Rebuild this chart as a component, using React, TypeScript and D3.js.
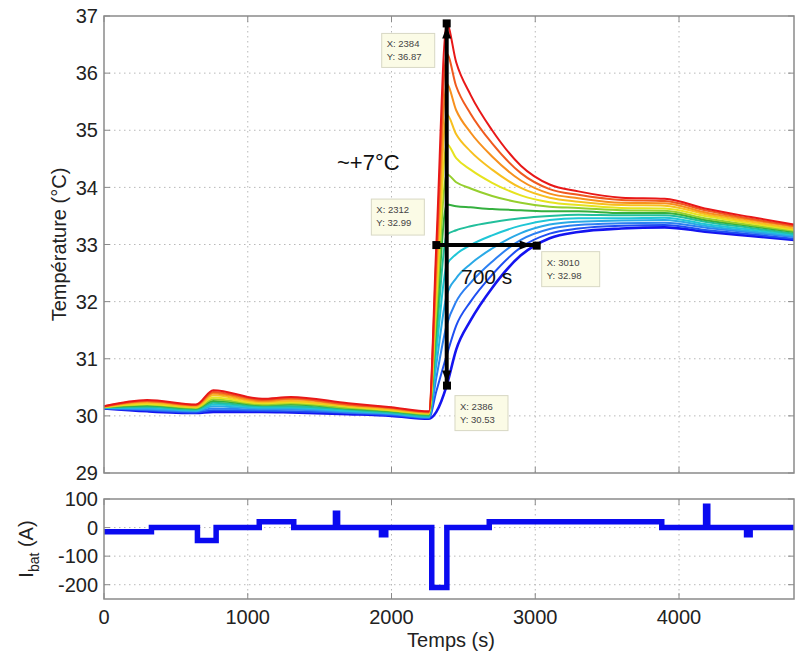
import React from 'react';
import * as d3 from 'd3';

// ---------- data ----------
const TIMES = [0, 300, 640, 760, 1100, 1300, 1700, 2000, 2260, 2312, 2384, 2450, 2550, 2700, 2900, 3100, 3300, 3600, 3900, 4200, 4500, 4800];

// 13 temperature curves, from the coldest (blue) to the hottest (red)
const TEMP_K0 = [30.13, 30.08, 30.05, 30.07, 30.07, 30.06, 30.03, 30.00, 29.95, 30.07, 30.53, 31.16, 31.67, 32.24, 32.81, 33.11, 33.22, 33.28, 33.30, 33.22, 33.15, 33.08];
const TEMP_K1 = [30.13, 30.10, 30.06, 30.10, 30.09, 30.08, 30.05, 30.01, 29.96, 30.43, 31.06, 31.58, 32.00, 32.47, 32.95, 33.19, 33.28, 33.33, 33.34, 33.25, 33.18, 33.10];
const TEMP_K2 = [30.14, 30.11, 30.08, 30.13, 30.11, 30.11, 30.06, 30.03, 29.97, 30.67, 31.59, 32.00, 32.33, 32.70, 33.08, 33.27, 33.34, 33.37, 33.38, 33.29, 33.21, 33.13];
const TEMP_K3 = [30.14, 30.13, 30.09, 30.17, 30.13, 30.13, 30.08, 30.04, 29.98, 30.90, 32.11, 32.41, 32.66, 32.93, 33.20, 33.35, 33.40, 33.42, 33.43, 33.32, 33.23, 33.15];
const TEMP_K4 = [30.14, 30.15, 30.10, 30.20, 30.15, 30.15, 30.09, 30.05, 29.99, 31.13, 32.64, 32.83, 32.99, 33.16, 33.33, 33.43, 33.46, 33.46, 33.47, 33.35, 33.26, 33.17];
const TEMP_K5 = [30.15, 30.16, 30.11, 30.23, 30.17, 30.17, 30.11, 30.06, 30.00, 31.36, 33.17, 33.25, 33.32, 33.39, 33.46, 33.50, 33.52, 33.51, 33.51, 33.39, 33.29, 33.19];
const TEMP_K6 = [30.15, 30.18, 30.13, 30.26, 30.19, 30.20, 30.13, 30.08, 30.02, 31.60, 33.70, 33.67, 33.65, 33.62, 33.60, 33.58, 33.58, 33.55, 33.55, 33.42, 33.32, 33.22];
const TEMP_K7 = [30.15, 30.20, 30.14, 30.29, 30.20, 30.22, 30.14, 30.09, 30.03, 31.84, 34.23, 34.09, 33.98, 33.85, 33.73, 33.66, 33.64, 33.60, 33.59, 33.45, 33.34, 33.24];
const TEMP_K8 = [30.16, 30.21, 30.15, 30.32, 30.22, 30.24, 30.16, 30.10, 30.04, 32.07, 34.76, 34.51, 34.31, 34.08, 33.86, 33.74, 33.69, 33.64, 33.63, 33.49, 33.37, 33.26];
const TEMP_K9 = [30.16, 30.23, 30.16, 30.36, 30.24, 30.26, 30.17, 30.11, 30.05, 32.30, 35.28, 34.93, 34.63, 34.31, 33.99, 33.82, 33.75, 33.69, 33.68, 33.52, 33.40, 33.28];
const TEMP_K10 = [30.16, 30.25, 30.18, 30.39, 30.26, 30.29, 30.19, 30.13, 30.06, 32.53, 35.81, 35.35, 34.96, 34.54, 34.12, 33.89, 33.81, 33.73, 33.72, 33.55, 33.43, 33.31];
const TEMP_K11 = [30.17, 30.26, 30.19, 30.42, 30.28, 30.31, 30.20, 30.14, 30.07, 32.77, 36.34, 35.77, 35.29, 34.77, 34.25, 33.97, 33.87, 33.78, 33.76, 33.59, 33.45, 33.33];
const TEMP_K12 = [30.17, 30.28, 30.20, 30.45, 30.30, 30.33, 30.22, 30.15, 30.08, 33.00, 36.87, 36.19, 35.62, 35.00, 34.38, 34.05, 33.93, 33.82, 33.80, 33.62, 33.48, 33.35];

const TEMP_SERIES = [TEMP_K0, TEMP_K1, TEMP_K2, TEMP_K3, TEMP_K4, TEMP_K5, TEMP_K6, TEMP_K7, TEMP_K8, TEMP_K9, TEMP_K10, TEMP_K11, TEMP_K12];

// battery current (step signal)
const I_TIMES = [0, 330, 650, 780, 1080, 1320, 1610, 1625, 1930, 1960, 2280, 2385, 2680, 3880, 4185, 4200, 4470, 4495, 4800];
const I_VALUES = [-15, 0, -45, 0, 20, 0, 50, 0, -25, 0, -210, 0, 20, 0, 75, 0, -25, 0, 0];

const TEMP_TICKS = [29, 30, 31, 32, 33, 34, 35, 36, 37];
const CURRENT_TICKS = [-200, -100, 0, 100];
const TIME_TICKS = [0, 1000, 2000, 3000, 4000];

// data tips
const TIP_X = [2384, 2312, 3010, 2386];
const TIP_Y = [36.87, 32.99, 32.98, 30.53];

// ---------- styles ----------
const CURVE_COLORS = ['#1414f0', '#1f4ff2', '#2c80f2', '#2aa9e6', '#1fc6d6', '#22bf9c', '#35b03f', '#96cf2e', '#e6e31f', '#f7c01f', '#f7901e', '#f05a1f', '#e81818'];
const FONT = "'Liberation Sans', Arial, Helvetica, sans-serif";
// box offsets (px) relative to tip point: dx, dy, w, h
const TIP_BOX = [
  [-65, 10, 53, 34],
  [-65, -46, 53, 36],
  [5, 6, 58, 35],
  [8, 10, 53, 35],
];

export default function App() {
  const W = 801, H = 656;
  const L = 104, R = 794, T1 = 16, B1 = 473, T2 = 499, B2 = 599;

  const x = d3.scaleLinear().domain([0, 4800]).range([L, R]);
  const y1 = d3.scaleLinear().domain([29, 37]).range([B1, T1]);
  const y2 = d3.scaleLinear().domain([-250, 100]).range([B2, T2]);

  const tLine = d3.line<number>()
    .x((_, i) => x(TIMES[i]))
    .y((d) => y1(d))
    .curve(d3.curveMonotoneX);

  const iLine = d3.line<number>()
    .x((_, i) => x(I_TIMES[i]))
    .y((d) => y2(d))
    .curve(d3.curveStepAfter);

  const gridColor = '#b8b8b8';
  const axisColor = '#8a8a8a';
  const tickLen = 6;

  const vx = x(TIP_X[0]);
  const vTop = y1(TIP_Y[0]);
  const vBot = y1(TIP_Y[3]);
  const hy = y1(TIP_Y[1]);
  const hL = x(TIP_X[1]);
  const hR = x(TIP_X[2]);

  const frame = (top: number, bottom: number, yTicks: number[], ys: (v: number) => number, gridY: number[]) => (
    <g>
      {TIME_TICKS.filter((t) => t > 0).map((t) => (
        <line key={'gx' + t} x1={x(t)} x2={x(t)} y1={top} y2={bottom} stroke={gridColor} strokeWidth={1} strokeDasharray="1.5,3.5" />
      ))}
      {gridY.map((v) => (
        <line key={'gy' + v} x1={L} x2={R} y1={ys(v)} y2={ys(v)} stroke={gridColor} strokeWidth={1} strokeDasharray="1.5,3.5" />
      ))}
      {TIME_TICKS.map((t) => (
        <g key={'tx' + t}>
          <line x1={x(t)} x2={x(t)} y1={bottom} y2={bottom - tickLen} stroke={axisColor} />
          <line x1={x(t)} x2={x(t)} y1={top} y2={top + tickLen} stroke={axisColor} />
        </g>
      ))}
      {yTicks.map((v) => (
        <g key={'ty' + v}>
          <line x1={L} x2={L + tickLen} y1={ys(v)} y2={ys(v)} stroke={axisColor} />
          <line x1={R} x2={R - tickLen} y1={ys(v)} y2={ys(v)} stroke={axisColor} />
          <text x={L - 6} y={ys(v)} dy="0.36em" textAnchor="end" fontSize={20} fill="#222" fontFamily={FONT}>{v}</text>
        </g>
      ))}
    </g>
  );

  const boxOutline = (top: number, bottom: number) => (
    <rect x={L} y={top} width={R - L} height={bottom - top} fill="none" stroke={axisColor} strokeWidth={1.5} />
  );

  return (
    <svg width={W} height={H} style={{ position: 'absolute', left: 0, top: 0, background: '#fff' }}>
      <rect x={0} y={0} width={W} height={H} fill="#fff" />
      {/* top plot */}
      {frame(T1, B1, TEMP_TICKS, y1, [30, 31, 32, 33, 34, 35, 36])}
      <g fill="none" strokeLinejoin="round">
        {TEMP_SERIES.map((s, k) => (
          <path key={k} d={tLine(s) || ''} stroke={CURVE_COLORS[k]} strokeWidth={k === 0 ? 2.6 : 2} />
        ))}
      </g>
      {/* annotations */}
      <g>
        <line x1={vx} x2={vx} y1={vTop} y2={vBot} stroke="#000" strokeWidth={4} />
        <line x1={hL} x2={hR} y1={hy} y2={hy} stroke="#000" strokeWidth={4} />
        <polygon points={`${vx},${vTop + 3} ${vx - 4.5},${vTop + 15} ${vx + 4.5},${vTop + 15}`} fill="#000" />
        <polygon points={`${vx},${vBot - 3} ${vx - 4.5},${vBot - 15} ${vx + 4.5},${vBot - 15}`} fill="#000" />
        <polygon points={`${hR - 5},${hy} ${hR - 17},${hy - 4.5} ${hR - 17},${hy + 4.5}`} fill="#000" />
        {TIP_X.map((t, i) => (
          <rect key={'m' + i} x={x(t) - 4} y={y1(TIP_Y[i]) - 4} width={8} height={8} fill="#000" />
        ))}
        {TIP_X.map((t, i) => {
          const px = x(t), py = y1(TIP_Y[i]);
          const [dx, dy, bw, bh] = TIP_BOX[i];
          return (
            <g key={'tip' + i}>
              <rect x={px + dx} y={py + dy} width={bw} height={bh} fill="#fbfbe6" stroke="#d8d8c4" strokeWidth={1} />
              <text x={px + dx + 5} y={py + dy + 14} fontSize={9.5} fill="#444" fontFamily={FONT}>{`X: ${t}`}</text>
              <text x={px + dx + 5} y={py + dy + 27} fontSize={9.5} fill="#444" fontFamily={FONT}>{`Y: ${TIP_Y[i].toFixed(2)}`}</text>
            </g>
          );
        })}
        <text x={337} y={170} fontSize={22} fill="#111" fontFamily={FONT}>~+7°C</text>
        <text x={461} y={284} fontSize={21} fill="#111" fontFamily={FONT}>700 s</text>
      </g>
      {boxOutline(T1, B1)}

      {/* bottom plot */}
      {frame(T2, B2, CURRENT_TICKS, y2, [-200, -100, 0])}
      <path d={iLine(I_VALUES) || ''} fill="none" stroke="#0a0af0" strokeWidth={5.5} strokeLinejoin="miter" />
      {boxOutline(T2, B2)}
      {TIME_TICKS.map((t) => (
        <text key={'xl' + t} x={x(t)} y={617} dy="0.36em" textAnchor="middle" fontSize={20} fill="#222" fontFamily={FONT}>{t}</text>
      ))}

      {/* axis labels */}
      <text x={451} y={647} textAnchor="middle" fontSize={20} fill="#222" fontFamily={FONT}>Temps (s)</text>
      <text transform={`translate(66, ${(T1 + B1) / 2}) rotate(-90)`} textAnchor="middle" fontSize={20} fill="#222" fontFamily={FONT}>Température (°C)</text>
      <text transform={`translate(33, ${(T2 + B2) / 2}) rotate(-90)`} textAnchor="middle" fontSize={20} fill="#222" fontFamily={FONT}>
        <tspan>I</tspan>
        <tspan fontSize={14} dy={6}>bat</tspan>
        <tspan dy={-6}> (A)</tspan>
      </text>
    </svg>
  );
}
